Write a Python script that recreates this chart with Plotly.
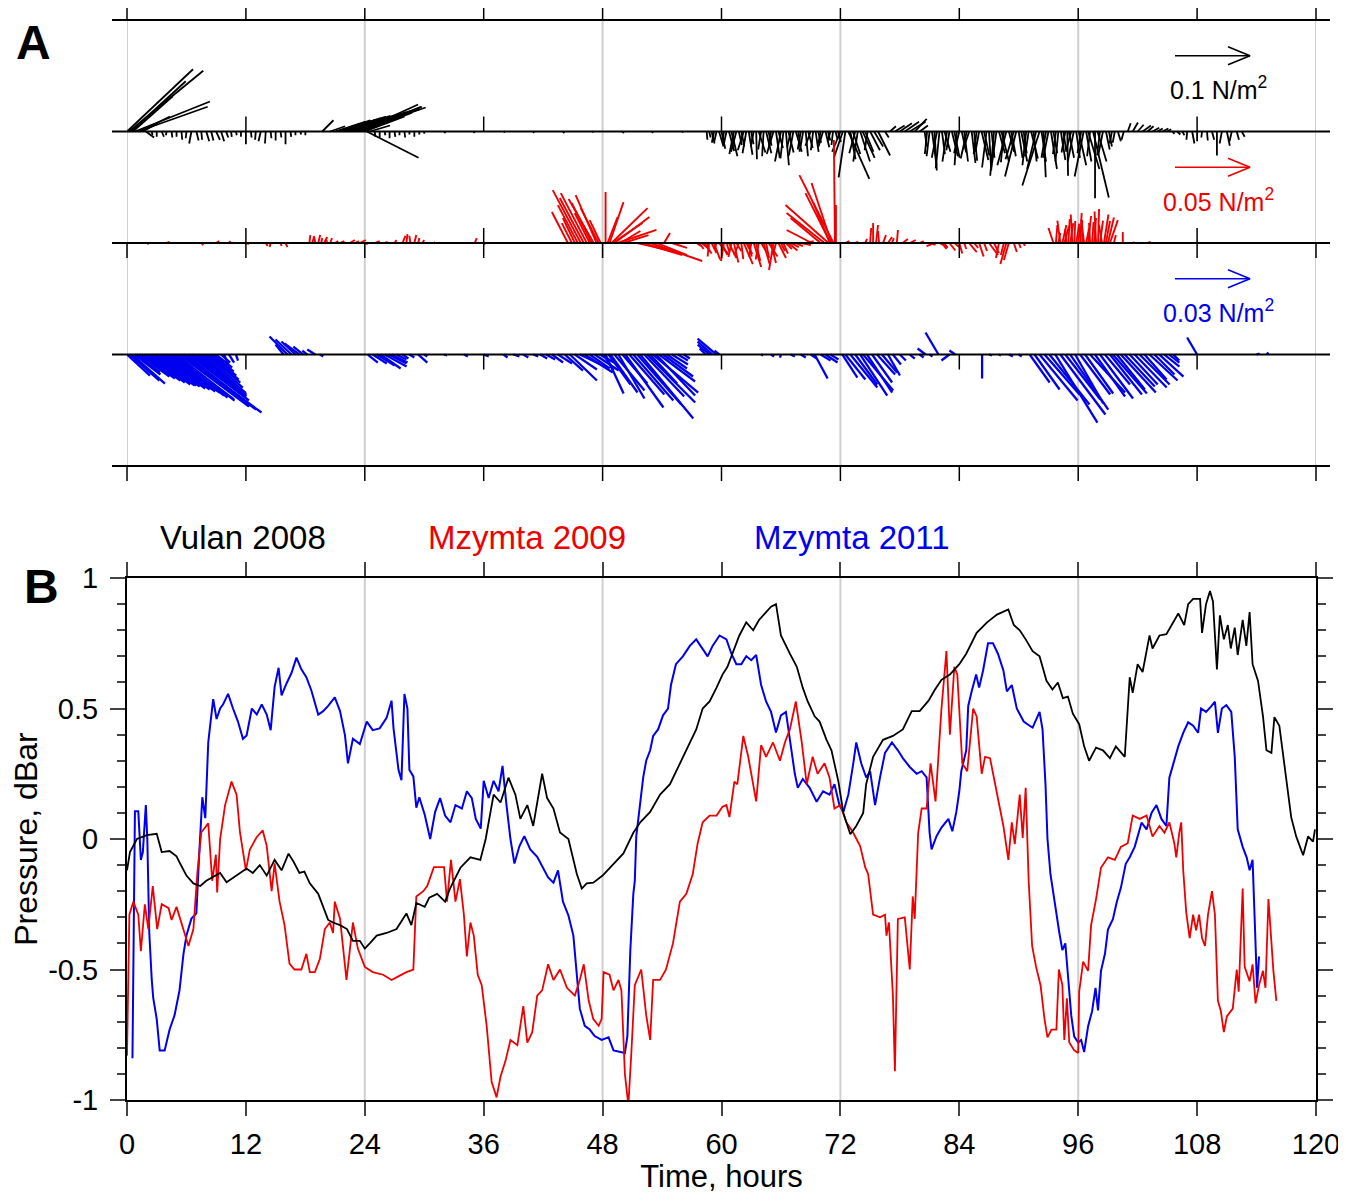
import plotly.graph_objects as go

# ---- panel B: bottom pressure, dBar ----
vulan_t = [0, 0.3, 1.0, 2.0, 3.0, 3.5, 4.3, 5.0, 5.35, 6.0, 6.7, 7.4, 8.0, 8.7, 9.4, 10.05, 11.06, 12.07, 12.7,
           13.4, 14.1, 14.9, 15.6, 16.3, 16.8, 17.4, 17.9, 18.45, 19.3, 19.8, 20.3, 20.8, 21.5, 22.2, 22.8, 23.5,
           24.0, 24.5, 25.2, 26.2, 27.2, 28.2, 28.7, 29.2, 30.05, 30.5, 31.3, 32.1, 32.6, 33.65, 34.66, 35.66,
           36.2, 37.0, 37.7, 38.5, 39.2, 39.7, 40.4, 41.0, 41.9, 42.4, 43.04, 43.7, 44.55, 45.4, 45.9, 46.4,
           47.06, 48.0, 49.1, 50.1, 51.1, 51.8, 52.8, 53.8, 54.8, 55.8, 56.8, 57.45, 58.1, 58.8, 59.5, 60.1,
           60.6, 61.1, 61.8, 62.5, 63.2, 63.8, 64.5, 65.0, 65.5, 66.0, 66.9, 67.6, 68.2, 68.7, 69.4, 69.9, 70.6,
           71.1, 71.8, 72.3, 73.0, 73.6, 74.3, 74.6, 75.3, 76.3, 77.3, 78.3, 79.2, 80.0, 80.9, 81.5, 82.2,
           83.05, 84.0, 84.7, 85.75, 86.8, 87.8, 88.95, 89.5, 90.1, 90.7, 91.4, 92.1, 92.8, 93.4, 93.95, 94.45,
           94.96, 95.46, 96.1, 96.6, 97.1, 97.8, 98.5, 99.2, 99.8, 100.7, 101.2, 101.5, 102.0, 102.5, 103.2,
           103.5, 104.2, 104.9, 105.4, 106.1, 106.7, 107.1, 107.6, 108.3, 108.5, 108.9, 109.3, 109.6, 110.0,
           110.3, 110.7, 111.1, 111.4, 111.8, 112.1, 112.6, 112.97, 113.3, 113.6, 114.15, 114.65, 115.0, 115.5,
           115.8, 116.3, 116.8, 117.2, 117.5, 118.0, 118.7, 119.2, 119.7, 119.9]
vulan_p = [-0.12, -0.05, 0.0, 0.015, 0.02, -0.05, -0.046, -0.066, -0.093, -0.14, -0.17, -0.18, -0.16, -0.146,
           -0.13, -0.166, -0.14, -0.113, -0.13, -0.1, -0.14, -0.08, -0.12, -0.056, -0.086, -0.13, -0.125, -0.17,
           -0.21, -0.26, -0.31, -0.32, -0.33, -0.345, -0.39, -0.39, -0.42, -0.4, -0.37, -0.36, -0.345, -0.285,
           -0.33, -0.245, -0.26, -0.225, -0.21, -0.24, -0.19, -0.11, -0.07, -0.08, 0.0, 0.17, 0.14, 0.235, 0.17,
           0.077, 0.13, 0.05, 0.25, 0.157, 0.117, 0.025, 0.0, -0.134, -0.19, -0.17, -0.167, -0.14, -0.094,
           -0.055, 0.024, 0.064, 0.104, 0.17, 0.21, 0.29, 0.37, 0.42, 0.5, 0.527, 0.58, 0.63, 0.66, 0.71, 0.78,
           0.83, 0.8, 0.84, 0.87, 0.89, 0.9, 0.78, 0.71, 0.66, 0.58, 0.527, 0.47, 0.45, 0.38, 0.34, 0.22, 0.1,
           0.018, 0.05, 0.1, 0.21, 0.315, 0.38, 0.395, 0.42, 0.49, 0.49, 0.53, 0.57, 0.61, 0.63, 0.67, 0.71,
           0.79, 0.83, 0.86, 0.88, 0.82, 0.8, 0.765, 0.72, 0.7, 0.606, 0.573, 0.6, 0.54, 0.546, 0.48, 0.44,
           0.355, 0.3, 0.35, 0.34, 0.31, 0.355, 0.315, 0.62, 0.56, 0.67, 0.64, 0.78, 0.73, 0.78, 0.785, 0.82,
           0.864, 0.82, 0.9, 0.92, 0.92, 0.79, 0.9, 0.95, 0.91, 0.65, 0.857, 0.765, 0.82, 0.73, 0.81, 0.705,
           0.84, 0.74, 0.87, 0.67, 0.606, 0.47, 0.34, 0.33, 0.467, 0.434, 0.29, 0.17, 0.083, 0.01, -0.062, 0.01,
           -0.01, 0.037]

mz09_t = [0, 0.24, 0.64, 1.14, 1.4, 1.8, 2.15, 2.6, 3.05, 3.5, 4.2, 4.5, 5.0, 5.7, 6.2, 6.7, 7.1, 7.5, 8.2, 8.6,
          8.97, 9.1, 9.4, 9.9, 10.55, 11.06, 11.4, 12.0, 12.4, 13.08, 13.7, 14.1, 14.6, 14.9, 15.4, 15.9, 16.4,
          16.9, 17.6, 18.1, 18.45, 18.96, 19.46, 19.97, 20.47, 20.8, 20.97, 21.5, 22.15, 22.8, 23.3, 24.0, 24.8,
          25.85, 26.7, 27.2, 28.2, 28.9, 29.2, 29.9, 30.3, 30.97, 31.5, 32.0, 32.3, 32.7, 33.15, 33.6, 34.0,
          34.3, 34.66, 35.0, 35.4, 35.8, 36.3, 36.8, 37.3, 37.7, 38.2, 38.7, 39.4, 40.0, 40.4, 40.9, 41.4, 41.9,
          42.5, 43.04, 43.7, 44.4, 45.2, 45.7, 46.1, 46.6, 47.06, 47.6, 47.9, 48.1, 48.7, 49.1, 49.6, 49.9,
          50.25, 50.6, 50.9, 51.25, 51.9, 52.4, 52.8, 53.1, 53.8, 54.4, 55.1, 55.8, 56.45, 57.1, 57.6, 58.1,
          58.8, 59.5, 60.1, 60.5, 60.8, 61.3, 61.6, 62.2, 62.7, 63.2, 63.5, 64.0, 64.5, 65.2, 65.9, 66.4, 66.9,
          67.5, 68.1, 68.6, 69.2, 69.7, 70.4, 70.9, 71.4, 72.0, 72.6, 73.3, 74.0, 74.5, 74.8, 75.3, 76.0, 76.5,
          76.65, 76.9, 77.3, 77.5, 77.8, 78.5, 79.0, 79.3, 79.5, 79.85, 80.2, 80.7, 81.1, 81.6, 82.2, 82.7,
          83.05, 83.5, 83.8, 84.3, 84.8, 85.4, 85.75, 86.26, 86.6, 87.1, 87.8, 88.45, 88.95, 89.3, 89.6, 90.1,
          90.4, 90.7, 91.0, 91.35, 91.75, 92.2, 92.6, 92.9, 93.3, 93.8, 94.05, 94.4, 94.6, 94.86, 95.1, 95.6,
          96.0, 96.1, 96.5, 97.0, 97.3, 97.8, 98.3, 99.0, 99.7, 100.3, 101.0, 101.5, 102.2, 102.9, 103.5, 104.2,
          104.7, 105.2, 105.7, 105.9, 106.2, 106.4, 106.6, 106.9, 107.25, 107.6, 107.9, 108.2, 108.5, 108.8,
          109.1, 109.5, 109.8, 110.1, 110.4, 110.7, 111.0, 111.6, 112.0, 112.2, 112.6, 112.8, 113.3, 113.6,
          113.9, 114.25, 114.65, 114.9, 115.2, 115.4, 115.7, 116.0]
mz09_p = [-0.83, -0.29, -0.24, -0.29, -0.43, -0.25, -0.345, -0.18, -0.345, -0.25, -0.265, -0.31, -0.26, -0.345,
          -0.41, -0.345, -0.13, 0.026, 0.06, -0.16, -0.06, -0.205, 0.0, 0.13, 0.22, 0.17, 0.026, -0.12, -0.04,
          0.007, 0.033, -0.026, -0.2, -0.093, -0.24, -0.33, -0.477, -0.5, -0.5, -0.44, -0.51, -0.51, -0.46,
          -0.345, -0.32, -0.36, -0.24, -0.305, -0.54, -0.32, -0.42, -0.49, -0.51, -0.52, -0.54, -0.53, -0.51,
          -0.5, -0.22, -0.2, -0.18, -0.108, -0.108, -0.108, -0.24, -0.08, -0.24, -0.154, -0.29, -0.45, -0.32,
          -0.37, -0.52, -0.56, -0.716, -0.93, -0.99, -0.91, -0.85, -0.77, -0.79, -0.64, -0.78, -0.74, -0.6,
          -0.58, -0.48, -0.54, -0.5, -0.57, -0.6, -0.54, -0.48, -0.62, -0.69, -0.716, -0.69, -0.51, -0.52,
          -0.58, -0.54, -0.58, -0.9, -1.02, -0.82, -0.56, -0.5, -0.675, -0.77, -0.54, -0.54, -0.5, -0.4, -0.24,
          -0.21, -0.134, -0.015, 0.064, 0.09, 0.09, 0.124, 0.13, 0.084, 0.22, 0.21, 0.395, 0.315, 0.21, 0.144,
          0.36, 0.315, 0.37, 0.3, 0.37, 0.42, 0.527, 0.37, 0.21, 0.315, 0.25, 0.29, 0.236, 0.117, 0.13, 0.064,
          0.024, -0.028, -0.108, -0.134, -0.29, -0.3, -0.29, -0.37, -0.32, -0.6, -0.89, -0.306, -0.3, -0.5,
          -0.22, -0.306, 0.024, 0.117, 0.117, 0.29, 0.144, 0.5, 0.72, 0.4, 0.66, 0.63, 0.29, 0.26, 0.5, 0.47,
          0.25, 0.315, 0.31, 0.18, 0.05, -0.08, 0.064, -0.02, 0.17, 0.004, 0.196, -0.16, -0.41, -0.49, -0.56,
          -0.69, -0.76, -0.73, -0.73, -0.5, -0.56, -0.77, -0.61, -0.78, -0.81, -0.82, -0.585, -0.47, -0.505,
          -0.33, -0.23, -0.11, -0.07, -0.08, -0.03, -0.016, 0.09, 0.077, 0.09, 0.01, 0.05, 0.024, 0.064, -0.016,
          -0.07, 0.024, 0.064, -0.12, -0.28, -0.38, -0.29, -0.35, -0.29, -0.38, -0.41, -0.29, -0.2, -0.29,
          -0.62, -0.66, -0.74, -0.68, -0.65, -0.5, -0.585, -0.19, -0.49, -0.545, -0.48, -0.63, -0.56, -0.505,
          -0.57, -0.23, -0.35, -0.505, -0.62]

mz11_t = [0.55, 0.8, 1.14, 1.4, 1.6, 1.9, 2.05, 2.25, 2.5, 2.65, 3.0, 3.3, 3.8, 4.3, 4.8, 5.3, 5.7, 6.0, 6.5, 7.0,
          7.3, 7.6, 7.9, 8.2, 8.4, 8.7, 9.04, 9.4, 9.7, 10.2, 10.7, 11.2, 11.7, 12.07, 12.6, 13.1, 13.6, 14.1,
          14.5, 14.9, 15.3, 15.6, 16.1, 16.6, 17.1, 17.6, 18.1, 18.6, 19.3, 19.8, 20.3, 20.97, 21.5, 22.0, 22.3,
          22.8, 23.5, 24.2, 24.8, 25.5, 26.2, 26.7, 26.9, 27.4, 27.7, 28.0, 28.3, 28.5, 28.9, 29.2, 29.5, 30.05,
          30.6, 31.1, 31.6, 32.1, 32.65, 33.15, 33.8, 34.3, 34.8, 35.2, 35.7, 36.0, 36.5, 37.0, 37.5, 37.9,
          38.3, 38.7, 39.1, 39.6, 40.1, 40.7, 41.4, 42.0, 42.5, 43.04, 43.5, 44.0, 44.55, 45.05, 45.4, 45.7,
          46.2, 46.7, 47.2, 47.9, 48.6, 49.1, 49.7, 50.25, 50.5, 50.8, 51.1, 51.25, 51.4, 51.75, 52.1, 52.4,
          52.8, 53.1, 53.6, 54.1, 54.6, 54.9, 55.4, 56.1, 56.8, 57.45, 58.1, 58.6, 59.1, 59.8, 60.5, 61.0, 61.5,
          62.0, 62.5, 63.0, 63.5, 64.0, 64.5, 65.0, 65.5, 66.0, 66.5, 66.9, 67.4, 67.7, 68.2, 68.9, 69.6,
          70.25, 70.9, 71.4, 71.9, 72.3, 72.8, 73.3, 73.6, 74.1, 74.6, 75.0, 75.5, 76.0, 76.5, 77.2, 77.8,
          78.3, 79.0, 79.7, 80.2, 80.7, 81.0, 81.2, 81.7, 82.2, 82.9, 83.3, 83.7, 84.0, 84.2, 84.7, 84.9, 85.25,
          85.7, 86.0, 86.4, 86.9, 87.4, 87.9, 88.45, 88.8, 89.3, 89.8, 90.5, 91.1, 91.4, 92.1, 92.4, 92.7,
          92.9, 93.2, 93.4, 93.8, 94.1, 94.4, 94.7, 94.96, 95.3, 95.6, 96.0, 96.3, 96.6, 97.0, 97.4, 97.75,
          98.0, 98.3, 98.7, 99.0, 99.5, 99.9, 100.3, 100.8, 101.2, 101.7, 102.0, 102.4, 102.9, 103.4, 103.9,
          104.4, 104.9, 105.2, 105.6, 106.1, 106.6, 107.1, 107.6, 108.1, 108.4, 108.9, 109.4, 109.8, 110.1,
          110.5, 110.95, 111.45, 111.8, 112.1, 112.6, 113.0, 113.3, 113.6, 113.8, 114.05, 114.25]
mz11_p = [-0.84, 0.106, 0.106, -0.08, -0.05, 0.13, 0.0, -0.36, -0.54, -0.61, -0.69, -0.81, -0.81, -0.73,
          -0.675, -0.58, -0.44, -0.37, -0.305, -0.285, -0.05, 0.16, 0.08, 0.37, 0.437, 0.536, 0.46, 0.5, 0.516,
          0.556, 0.5, 0.45, 0.384, 0.397, 0.5, 0.477, 0.516, 0.477, 0.417, 0.583, 0.656, 0.55, 0.596, 0.636,
          0.695, 0.65, 0.62, 0.57, 0.477, 0.49, 0.51, 0.543, 0.49, 0.397, 0.29, 0.384, 0.364, 0.45, 0.417,
          0.424, 0.464, 0.53, 0.424, 0.265, 0.225, 0.556, 0.5, 0.265, 0.24, 0.12, 0.16, 0.093, 0.0, 0.104,
          0.157, 0.09, 0.064, 0.13, 0.117, 0.183, 0.157, 0.077, 0.04, 0.223, 0.157, 0.223, 0.183, 0.28, 0.13,
          0.0, -0.094, -0.028, 0.011, -0.04, -0.068, -0.108, -0.147, -0.167, -0.12, -0.24, -0.293, -0.37,
          -0.53, -0.65, -0.716, -0.73, -0.755, -0.77, -0.76, -0.81, -0.815, -0.82, -0.755, -0.425, -0.21,
          -0.16, 0.011, 0.117, 0.236, 0.3, 0.34, 0.395, 0.42, 0.474, 0.5, 0.59, 0.67, 0.7, 0.74, 0.765, 0.73,
          0.7, 0.74, 0.78, 0.765, 0.71, 0.67, 0.67, 0.7, 0.685, 0.705, 0.59, 0.527, 0.487, 0.408, 0.474,
          0.487, 0.38, 0.25, 0.196, 0.23, 0.196, 0.143, 0.183, 0.17, 0.21, 0.13, 0.104, 0.17, 0.29, 0.37,
          0.29, 0.236, 0.26, 0.13, 0.236, 0.33, 0.37, 0.34, 0.31, 0.276, 0.25, 0.26, 0.236, 0.024, -0.04,
          0.011, 0.044, 0.077, 0.03, 0.104, 0.183, 0.26, 0.34, 0.51, 0.566, 0.63, 0.58, 0.646, 0.75, 0.75,
          0.71, 0.646, 0.566, 0.59, 0.5, 0.45, 0.434, 0.427, 0.487, 0.42, 0.209, 0.0, -0.135, -0.188, -0.28,
          -0.36, -0.426, -0.4, -0.52, -0.677, -0.757, -0.78, -0.77, -0.816, -0.717, -0.66, -0.57, -0.657,
          -0.505, -0.44, -0.347, -0.307, -0.24, -0.188, -0.095, -0.07, -0.03, 0.01, 0.063, 0.037, 0.1, 0.13,
          0.077, 0.05, 0.235, 0.288, 0.355, 0.407, 0.447, 0.434, 0.407, 0.5, 0.487, 0.507, 0.526, 0.407, 0.5,
          0.513, 0.487, 0.315, 0.037, -0.03, -0.07, -0.12, -0.08, -0.294, -0.57, -0.45]

# ---- panel A: wind stress sticks (time h, east u, north v in N/m^2) ----
vulan_ws_t = [0.0, 0.2, 0.4, 0.6, 0.8, 1.1, 1.3, 1.6, 1.9,
              2.5, 3.0, 3.5, 4.0, 4.5, 5.0, 5.5, 6.0, 6.5, 7.0, 7.5, 8.0, 8.5, 9.0, 9.5, 10.0, 10.5, 11.0,
              11.5, 12.0, 12.5, 13.0, 13.5, 14.0, 14.5, 15.0, 15.5, 16.0, 16.5, 17.0, 17.5, 18.0,
              19.7, 20.5, 21.0, 21.15, 21.3, 21.45, 21.6, 21.75, 21.9, 22.05, 22.2, 22.35, 22.5, 22.65, 22.8,
              22.95, 23.1, 23.25, 23.4, 23.55, 23.7, 23.85, 24.0, 24.2, 24.5,
              25.0, 25.5, 26.0, 26.5, 27.0, 27.5, 28.0, 28.5, 29.0, 29.5, 30.0,
              32, 35, 38, 41, 44, 47, 50, 53, 56,
              58.5, 59.0, 59.5, 60.0, 60.5, 61.0, 61.5, 62.0, 62.5, 63.0, 63.5, 64.0, 64.5, 65.0, 65.5, 66.0,
              66.5, 67.0, 67.5, 68.0, 68.5, 69.0, 69.5, 70.0, 70.5, 71.0, 71.5, 72.0, 72.5, 72.8, 73.0, 73.5,
              74.0, 74.5, 75.0, 75.8, 76.5,
              77.0, 77.5, 78.0, 78.5, 79.0, 79.5, 80.0,
              80.5, 81.0, 81.5, 82.0, 82.5, 83.0, 83.5, 84.0, 84.5, 85.0, 85.5, 86.0, 86.5, 87.0, 87.5, 88.0,
              88.5, 89.0, 89.5, 90.0, 90.5, 91.0, 91.5, 92.1, 92.5, 93.0, 93.5, 94.0, 94.5, 94.9, 95.3, 95.8,
              96.3, 96.8, 97.2, 97.5, 97.7, 98.2, 98.8, 99.4, 100.0, 100.6,
              101.0, 101.5, 102.0, 102.5, 103.0, 103.5, 104.0, 104.5, 105.0,
              105.5, 106.0, 106.5, 107.0, 107.5, 108.0, 108.5, 109.0, 109.5, 110.0, 110.5, 111.0, 111.5, 112.0,
              112.5,
              58.75, 59.25, 59.75, 60.25, 60.75, 61.25, 61.75, 62.25, 62.75, 63.25, 63.75, 64.25, 64.75, 65.25,
              65.75, 66.25, 66.75, 67.25, 67.75, 68.25, 68.75, 69.25, 69.75, 70.25, 70.75, 71.25, 71.75, 72.25,
              73.25, 73.75, 74.25, 74.75, 75.4,
              80.75, 81.25, 81.75, 82.25, 82.75, 83.25, 83.75, 84.25, 84.75, 85.25, 85.75, 86.25, 86.75, 87.25,
              87.75, 88.25, 88.75, 89.25, 89.75, 90.25, 90.75, 91.25, 91.75, 92.3, 92.75, 93.25, 93.75, 94.25,
              94.7, 95.05, 95.55, 96.05, 96.55, 97.0, 97.95, 98.5, 99.1, 99.7]
vulan_ws_u = [0.088, 0.099, 0.073, 0.053, 0.100, 0.093, 0.040, 0.020, 0.011,
              0.001, 0, 0.003, -0.001, 0.001, 0, 0.001, -0.001, -0.003, 0.003, 0.001, 0.004, 0.003, 0.005,
              0.004, 0.003, 0.001, 0.001, 0, 0, 0.001, -0.001, -0.003, -0.001, 0.001, 0, 0.001, 0, 0.001, 0,
              0.001, 0,
              0.015, 0.020, 0.040, 0.045, 0.051, 0.055, 0.060, 0.064, 0.067, 0.070, 0.073, 0.077, 0.080, 0.082,
              0.083, 0.088, 0.093, 0.085, 0.079, 0.075, 0.080, 0.065, 0.053, 0.069, 0.027,
              0.001, 0, 0.001, 0, 0.001, 0, 0.001, 0, 0, 0, 0,
              0.002, 0.001, 0.002, 0.001, 0.002, 0.001, 0.002, 0.001, 0.002,
              0.001, 0.004, -0.003, 0.005, -0.004, 0.008, -0.007, 0.004, -0.005, 0.003, 0.001, -0.004, 0.007,
              -0.003, 0.005, -0.008, 0.004, -0.005, 0.008, -0.004, 0.003, -0.007, 0.004, -0.003, 0.005, -0.004,
              0.003, -0.011, -0.009, 0.028, 0.007, -0.008, 0.013, 0.011, 0.013, 0.016, 0.005,
              0.008, 0.013, 0.016, 0.019, 0.021, 0.016, 0.011,
              0.003, -0.004, 0.003, -0.005, 0.008, -0.004, 0.007, -0.007, 0.005, -0.008, 0.004, -0.005, 0.007,
              0.003, -0.005, 0.008, -0.004, 0.007, -0.011, 0.005, 0.004, -0.005, 0.004, -0.023, 0.003, -0.007,
              0.005, -0.004, 0.004, 0.001, -0.007, 0.005, -0.005, 0.007, -0.004, 0.021, 0, -0.004, 0.005,
              -0.003, 0.004, -0.003,
              0.004, 0.007, 0.008, 0.011, 0.008, 0.009, 0.007, 0.008, 0.005,
              0.003, 0.004, 0.003, -0.001, 0.003, 0, -0.001, 0.001, 0.003, 0, -0.003, 0.004, -0.003, 0.003,
              0.004,
              0.002, -0.003, 0.006, -0.002, 0.007, -0.006, 0.004, -0.008, 0.005, -0.004, 0.009, -0.002, 0.004,
              -0.009, 0.006, -0.004, 0.007, -0.006, 0.003, -0.005, 0.006, -0.003, 0.004, -0.006, 0.003, -0.002,
              0.004, -0.012, 0.010, -0.006, 0.016, -0.004, 0.012,
              -0.003, 0.006, -0.007, 0.004, -0.006, 0.008, -0.003, 0.006, -0.008, 0.005, -0.004, 0.009, -0.006,
              0.004, -0.007, 0.010, -0.012, 0.006, -0.015, 0.008, -0.005, 0.009, -0.012, 0.006, -0.006, 0.008,
              -0.004, 0.006, -0.005, 0.007, -0.008, 0.010, -0.012, 0.015, 0.012, -0.006, 0.004, -0.003]
vulan_ws_v = [0.083, 0.081, 0.067, 0.047, 0.040, 0.033, 0.020, 0.011, -0.008,
              -0.005, -0.007, -0.007, -0.005, -0.008, -0.007, -0.011, -0.009, -0.016, -0.012, -0.011, -0.013,
              -0.012, -0.011, -0.013, -0.008, -0.007, -0.005, -0.007, -0.017, -0.008, -0.011, -0.013, -0.016,
              -0.009, -0.012, -0.008, -0.017, -0.007, -0.005, -0.004, -0.005,
              0.015, 0.007, 0.013, 0.015, 0.016, 0.018, 0.020, 0.021, 0.021, 0.023, 0.024, 0.026, 0.027, 0.028,
              0.028, 0.030, 0.032, 0.033, 0.036, 0.030, 0.033, 0.025, 0.020, -0.035, 0.008,
              -0.007, -0.008, -0.005, -0.009, -0.007, -0.005, -0.008, -0.004, -0.007, -0.004, -0.003,
              -0.002, -0.002, -0.001, -0.002, -0.002, -0.001, -0.002, -0.002, -0.001,
              -0.011, -0.016, -0.013, -0.023, -0.019, -0.033, -0.027, -0.020, -0.029, -0.017, -0.037, -0.024,
              -0.029, -0.021, -0.035, -0.040, -0.045, -0.021, -0.027, -0.024, -0.033, -0.019, -0.027, -0.016,
              -0.021, -0.013, -0.011, -0.027, -0.061, -0.063, -0.037, -0.029, -0.040, -0.027, -0.025, -0.032,
              -0.008,
              0.007, 0.008, 0.011, 0.013, 0.013, 0.017, 0.008,
              -0.020, -0.033, -0.052, -0.049, -0.027, -0.025, -0.035, -0.029, -0.040, -0.024, -0.039, -0.027,
              -0.032, -0.052, -0.059, -0.029, -0.041, -0.027, -0.037, -0.035, -0.029, -0.033, -0.040, -0.072,
              -0.061, -0.035, -0.029, -0.040, -0.027, -0.059, -0.025, -0.035, -0.029, -0.040, -0.033, -0.088,
              -0.089, -0.032, -0.024, -0.016, -0.013, -0.011,
              0.011, 0.012, 0.009, 0.008, 0.007, 0.005, 0.004, 0.004, 0.003,
              -0.003, -0.004, -0.005, -0.011, -0.016, -0.013, -0.008, -0.012, -0.011, -0.032, -0.016, -0.019,
              -0.013, -0.011, -0.007,
              -0.008, -0.015, -0.020, -0.012, -0.026, -0.030, -0.018, -0.025, -0.031, -0.020, -0.028, -0.033,
              -0.019, -0.030, -0.022, -0.036, -0.028, -0.032, -0.020, -0.027, -0.022, -0.025, -0.015, -0.020,
              -0.012, -0.018, -0.014, -0.035, -0.030, -0.040, -0.035, -0.025, -0.020,
              -0.030, -0.045, -0.035, -0.030, -0.040, -0.033, -0.045, -0.028, -0.036, -0.042, -0.030, -0.038,
              -0.048, -0.035, -0.050, -0.040, -0.045, -0.033, -0.060, -0.040, -0.045, -0.036, -0.050, -0.040,
              -0.035, -0.050, -0.030, -0.038, -0.028, -0.035, -0.040, -0.045, -0.060, -0.050, -0.040, -0.030,
              -0.020, -0.015]

mz09_ws_t = [2.0, 4.0, 7.5, 9.0, 10.5, 12.0, 14.0, 14.5, 15.5, 16.0,
             18.4, 18.7, 19.0, 19.3, 19.6, 19.9, 20.2, 20.5, 21.0, 21.5, 22.0, 22.5, 23.0, 23.5, 24.0, 25.0,
             26.0, 27.0, 27.8, 28.2, 28.6, 29.0, 29.4, 29.8, 31.0, 35.1, 36.0,
             44.5, 44.9, 45.2, 45.5, 45.8, 46.1, 46.4, 46.7, 46.9, 47.1, 47.4, 47.6, 47.8,
             48.3, 48.5, 48.7, 48.9, 49.0, 49.2, 49.5, 49.8, 50.1, 51.5, 52.0, 52.8, 53.5, 54.2, 55.0,
             57.5, 58.0, 58.5, 59.0, 59.5, 60.0, 60.5, 61.0, 61.5, 62.0, 62.5, 63.0, 63.5, 64.0, 64.5, 65.0,
             65.5, 66.0, 66.5, 67.0, 67.5, 68.0, 68.5,
             69.1, 70.0, 70.4, 70.8, 70.95, 71.0, 71.1, 71.3, 71.45, 71.55,
             72.5, 73.5, 74.5, 75.0, 75.3, 75.6, 75.9, 76.3, 76.8, 77.2, 77.7, 78.3, 79.0, 80.0, 81.0, 81.5,
             82.0, 82.5, 83.5, 84.5, 85.5, 86.5, 87.5, 88.5, 89.0, 89.5, 90.0, 90.5,
             93.5, 94.0, 94.4, 94.8, 95.2, 95.6, 96.0, 96.4, 96.8, 97.2, 97.6, 98.0, 98.4, 98.8, 99.2, 99.6,
             100.5, 101.5, 103.0,
             57.75, 58.25, 58.75, 59.25, 59.75, 60.25, 60.75, 61.25, 61.75, 62.25, 62.75, 63.25, 63.75, 64.25,
             64.75, 65.25, 65.75, 66.25, 66.75,
             82.25, 83.0, 84.0, 85.0, 86.0, 87.0, 88.0, 88.75,
             93.75, 94.2, 94.6, 95.0, 95.4, 95.8, 96.2, 96.6, 97.0, 97.4, 97.8, 98.2, 98.6, 99.0]
mz09_ws_u = [0.0013, 0.002, 0.0013, 0.002, -0.0013, 0.002, 0.0013, -0.0007, 0.0007, 0.0013,
             0.0007, 0.0013, -0.0007, 0.0013, 0.0007, 0.002, -0.0007, 0.0013, 0.002, 0.0027, -0.002, 0.0033,
             0.0027, 0.004, 0.002, 0.0033, 0.002, 0.0013, 0.002, 0.0007, -0.0007, 0.0013, 0.0007, 0.0013,
             0.0007, 0.0013, 0.0007,
             -0.0107, -0.0067, -0.008, -0.0133, -0.0187, -0.016, -0.0173, -0.01, -0.0133, -0.0167, -0.014,
             -0.012, -0.0073,
             0, 0.0067, 0.0093, 0.024, 0.02, 0.0233, 0.026, 0.0133, 0.0167, 0.0233, 0.0267, 0.0347, 0.02,
             0.004, 0.01,
             0.0027, 0.004, 0.002, 0.0033, -0.0013, 0.004, 0.002, -0.002, 0.0033, 0.0013, 0.004, -0.0013,
             0.0027, 0.004, 0.002, 0.0033, -0.002, 0.0027, 0.004, 0.0053, 0.0047, 0.0067, 0.0053,
             -0.0167, -0.02, -0.0253, -0.0287, -0.0113, -0.0167, -0.0133, -0.0227, -0.0007, 0,
             0.0027, 0.002, 0.0013, 0.0007, 0, 0.0013, -0.0007, 0.002, 0.0027, 0.0013, 0.0007, 0.0033, 0.004,
             0.0027, 0.004, -0.0053, 0.0053, 0.002, 0.0033, 0.0013, 0.0027, 0.002, 0.0033, -0.002, -0.0033,
             0.002, 0.0013, 0.0007,
             -0.0033, 0.0013, 0.0027, -0.0007, 0.002, 0.0007, 0.0013, 0, 0.002, -0.0007, 0.0013, 0.0007,
             -0.002, 0.0027, 0.0053, 0.0013, 0, 0.0013, 0.002,
             0.003, 0.005, -0.001, 0.004, 0.006, -0.002, 0.005, 0.003, -0.003, 0.006, 0.002, 0.005, -0.002,
             0.004, 0.006, -0.003, 0.005, 0.003, 0.006,
             0.003, 0.004, 0.002, 0.005, 0.003, 0.006, -0.002, -0.004,
             0.001, -0.002, 0.003, 0.001, -0.001, 0.002, 0.001, -0.002, 0.002, 0.001, -0.001, 0.002, 0.003,
             0.004]
mz09_ws_v = [-0.0007, 0.0007, -0.0013, 0.0013, 0.0013, -0.0007, -0.002, -0.0027, -0.002, -0.0027,
             0.0053, 0.0047, 0.004, 0.0053, 0.0033, 0.004, 0.0027, 0.0033, 0.0013, 0.0013, 0.0007, 0.002,
             0.0013, 0.002, -0.0007, 0.0013, 0.0007, 0.002, 0.0047, 0.006, 0.0047, 0.0053, 0.0033, 0.002,
             0.0007, 0.0033, -0.0013,
             0.0207, 0.0133, 0.0167, 0.0253, 0.0353, 0.03, 0.0333, 0.02, 0.0267, 0.0293, 0.032, 0.0233, 0.0153,
             0.034, 0.0173, 0.0273, 0.0233, 0.0133, 0.0173, 0.0087, 0.008, 0.0053, -0.0053, -0.008, -0.012,
             -0.008, 0.0067, -0.0033,
             -0.002, -0.0033, -0.0053, -0.0067, -0.004, -0.008, -0.006, -0.0093, -0.0053, -0.0107, -0.0073,
             -0.0093, -0.012, -0.0067, -0.01, -0.0133, -0.008, -0.0053, -0.004, -0.0027, -0.002, -0.0013,
             0.0013,
             0.0087, 0.0167, 0.02, 0.0253, 0.0273, 0.0333, 0.04, 0.0453, 0.0687, 0.0253,
             0.0013, 0.0007, 0.0027, 0.01, 0.0133, 0.012, 0.008, 0.0053, 0.004, 0.0033, 0.0087, 0.0027, 0.002,
             0.0013, -0.0013, -0.002, -0.0027, -0.0033, -0.0027, -0.004, -0.0033, -0.0053, -0.0067, -0.008,
             -0.0113, -0.006, -0.0033, -0.002,
             0.01, 0.0067, 0.012, 0.0093, 0.0133, 0.0147, 0.0113, 0.0153, 0.01, 0.0133, 0.0167, 0.0227, 0.012,
             0.0147, 0.0153, 0.0053, 0.0073, 0.0007, 0.0007,
             -0.004, -0.007, -0.009, -0.011, -0.007, -0.012, -0.010, -0.013, -0.008, -0.014, -0.009, -0.016,
             -0.011, -0.014, -0.009, -0.018, -0.010, -0.007, -0.005,
             -0.004, -0.005, -0.007, -0.006, -0.009, -0.008, -0.010, -0.014,
             0.012, 0.015, 0.011, 0.016, 0.019, 0.013, 0.020, 0.016, 0.018, 0.014, 0.021, 0.015, 0.019, 0.017]

mz11_ws_t = [0.0, 0.25, 0.5, 0.75, 1.0, 1.25, 1.5, 1.75, 2.0, 2.25, 2.5, 2.75, 3.0, 3.25, 3.5, 3.75, 4.0, 4.25,
             4.5, 4.75, 5.0, 5.25, 5.5, 5.75, 6.0, 6.25, 6.5, 6.75, 7.0, 7.25, 7.5, 7.75, 8.0, 8.25, 8.5, 8.75,
             9.0, 9.5, 9.8, 10.3, 11.0,
             15.8, 16.2, 16.6, 17.0, 17.4, 17.8, 18.2, 19.0, 19.5,
             24.3, 24.8, 25.2, 25.6, 26.0, 26.4, 26.7, 27.2, 27.8, 28.5, 29.4, 30.0,
             32, 34, 36, 38, 39, 40,
             41.0, 41.7, 42.3, 42.9, 43.5, 44.2, 44.7, 45.2, 45.7, 46.2, 46.7, 47.2, 47.7,
             48.1, 48.3, 48.6, 48.8, 49.2, 49.6, 50.0, 50.3, 50.7, 51.1, 51.5, 51.8, 52.2, 52.5, 52.8, 53.1,
             53.4, 53.7, 54.1, 54.5, 55.0, 55.6, 56.2,
             58.4, 58.8, 59.1, 59.5, 59.8,
             64, 65, 66, 67, 68, 69, 69.4, 70, 70.5, 71,
             72.2, 72.5, 73.0, 73.5, 74.0, 74.3, 74.7, 75.2, 75.7, 76.2, 76.8, 77.3, 78, 79, 80,
             80.6, 81.0, 81.9, 83.0, 83.6, 86.3, 87, 88, 89, 90,
             91.1, 91.6, 92.1, 92.6, 93.1, 93.7, 94.2, 94.7, 95.2, 95.7, 96.2, 96.7, 97.2, 97.7, 98.2, 98.7,
             99.2, 99.5, 99.9, 100.3, 100.7, 101.2, 101.7, 102.2, 102.7, 103.2, 103.7, 104.2, 104.7, 105.2,
             105.6, 108.0, 114, 115]
mz11_ws_u = [0.0092, 0.012, 0.0132, 0.0104, 0.0092, 0.012, 0.0132, 0.0144, 0.0152, 0.0164, 0.0172, 0.0168,
             0.0172, 0.0184, 0.0192, 0.0204, 0.0212, 0.022, 0.0224, 0.024, 0.0232, 0.028, 0.032, 0.0288,
             0.0256, 0.024, 0.022, 0.0208, 0.02, 0.0188, 0.0176, 0.0156, 0.0136, 0.012, 0.01, 0.008, 0.0064,
             0.0036, 0.0016, 0.002, 0.0008,
             -0.0032, -0.0072, -0.0064, -0.0056, -0.006, -0.004, -0.002, -0.0032, 0.0012,
             0.004, 0.0056, 0.0072, 0.008, 0.0088, 0.0072, 0.0064, 0.004, 0.0024, 0.002, 0.0036, 0.0012,
             0.0012, 0.0016, 0.002, 0.0016, 0.0024, 0.002,
             0.002, 0.0028, 0.0036, 0.0044, 0.0056, 0.0072, 0.0108, 0.0088, 0.01, 0.0112, 0.008, 0.0096,
             0.0072,
             0.004, 0.0072, 0.0088, 0.0108, 0.012, 0.0104, 0.01, 0.0152, 0.014, 0.016, 0.0176, 0.0212, 0.016,
             0.0192, 0.0108, 0.018, 0.0156, 0.0144, 0.012, 0.008, 0.0064, 0.004, 0.0024,
             -0.0024, -0.0048, -0.006, -0.0076, -0.002,
             0.0008, 0.0012, -0.0004, 0.0016, 0.002, 0.0024, 0.0052, 0.004, 0.0048, 0.0032,
             0.006, 0.008, 0.0108, 0.0088, 0.0108, 0.012, 0.01, 0.008, 0.0072, 0.006, 0.0048, 0.0032, 0.0024,
             0.002, 0.0016,
             -0.0032, 0.0012, -0.0052, -0.0032, -0.0024, 0, 0.0012, 0.0008, 0.0016, 0.0012,
             0.008, 0.01, 0.0152, 0.014, 0.016, 0.0168, 0.018, 0.014, 0.0152, 0.0112, 0.012, 0.0112, 0.014,
             0.012, 0.0132, 0.01, 0.0128, 0.0136, 0.0112, 0.014, 0.012, 0.0112, 0.0128, 0.012, 0.0088, 0.0112,
             0.008, 0.0096, 0.006, 0.004, 0.0024, -0.004, 0.0012, 0.0008]
mz11_ws_v = [-0.0084, -0.0104, -0.0116, -0.008, -0.0072, -0.0088, -0.0096, -0.0104, -0.0112, -0.012,
             -0.0124, -0.0124, -0.0128, -0.0136, -0.014, -0.0148, -0.0152, -0.0164, -0.0172, -0.018, -0.0184,
             -0.0208, -0.0232, -0.022, -0.0204, -0.0184, -0.0168, -0.0164, -0.016, -0.0156, -0.0152, -0.0132,
             -0.0112, -0.01, -0.0084, -0.0068, -0.0052, -0.0032, -0.004, -0.0032, -0.0024,
             0.004, 0.0072, 0.006, 0.0052, 0.0044, 0.0032, 0.0016, 0.002, -0.0008,
             -0.0032, -0.0036, -0.0044, -0.0056, -0.0048, -0.0036, -0.0032, -0.002, -0.0016, -0.0012,
             -0.0032, -0.0008,
             -0.0004, -0.0008, -0.0008, -0.0012, -0.0008, -0.0012,
             -0.0008, -0.0016, -0.002, -0.0032, -0.0036, -0.0064, -0.0104, -0.006, -0.0048, -0.0072, -0.0056,
             -0.0064, -0.004,
             -0.0064, -0.0156, -0.012, -0.0152, -0.0144, -0.0176, -0.0116, -0.0212, -0.016, -0.0184, -0.02,
             -0.0256, -0.0168, -0.0192, -0.0116, -0.0152, -0.0164, -0.0108, -0.0088, -0.0056, -0.004, -0.0024,
             -0.0016,
             0.0024, 0.004, 0.0052, 0.0064, 0.0016,
             -0.0004, -0.0008, -0.0012, -0.0008, -0.0012, -0.0016, -0.0096, -0.0024, -0.0032, -0.002,
             -0.0092, -0.01, -0.0132, -0.012, -0.0164, -0.0144, -0.0152, -0.0112, -0.008, -0.0072, -0.0084,
             -0.004, -0.0024, -0.0016, -0.0012,
             0.0024, -0.0008, 0.0088, -0.0024, 0.0016, -0.0096, -0.0004, -0.0004, -0.0008, -0.0008,
             -0.0112, -0.014, -0.0184, -0.016, -0.02, -0.0272, -0.024, -0.018, -0.022, -0.0196, -0.016,
             -0.0156, -0.0152, -0.0168, -0.0176, -0.012, -0.016, -0.0156, -0.014, -0.0152, -0.0128, -0.012,
             -0.0132, -0.012, -0.01, -0.0104, -0.008, -0.0088, -0.0048, -0.0032, -0.0024, 0.0068, 0.0004,
             0.0008]

series_names = ["Vulan 2008", "Mzymta 2009", "Mzymta 2011"]
series_colors = ["black", "#ee0000", "#0000ee"]
ref_stress = [0.1, 0.05, 0.03]          # N/m^2 for the scale arrows
ref_labels = ["0.1 N/m<sup>2</sup>", "0.05 N/m<sup>2</sup>", "0.03 N/m<sup>2</sup>"]

# ---- geometry (page body has an 8 px margin) ----
BODY = 8
W, H = 1334, 1186
ML, MT = 127 - BODY, 20 - BODY
MR = W - (1316 - BODY)
MB = H - (1100 - BODY)
PW, PH = W - ML - MR, H - MT - MB
A_DOM = [0.587, 1.0]
B_DOM = [0.0, 0.4833]
T_MAX = 120
PX_H = PW / T_MAX                       # px per hour
PX_A = (A_DOM[1] - A_DOM[0]) * PH / 4   # px per panel-A unit
ARROW_PX = 75
FONT = "Liberation Sans, Arial, Helvetica, sans-serif"
GRID = "#cfcfcf"


def ya(v):
    return A_DOM[0] + v / 4 * (A_DOM[1] - A_DOM[0])


def px_to_paper(xp, yp):
    # reference-picture pixel -> paper coords
    return (xp - 127) / PW, (1100 - yp) / PH


def sticks(t, u, v, base, scale):
    xs, ys = [], []
    for ti, ui, vi in zip(t, u, v):
        xs += [ti, ti + ui * scale / PX_H, None]
        ys += [base, base + vi * scale / PX_A, None]
    return xs, ys


fig = go.Figure()

# panel A
stick_sets = [(vulan_ws_t, vulan_ws_u, vulan_ws_v), (mz09_ws_t, mz09_ws_u, mz09_ws_v),
              (mz11_ws_t, mz11_ws_u, mz11_ws_v)]
bases = [3, 2, 1]
widths = [1.8, 1.9, 2.3]
shapes = []
annos = []
for (t, u, v), base, col, ref, lab, lw in zip(stick_sets, bases, series_colors, ref_stress, ref_labels, widths):
    scale = ARROW_PX / ref
    xs, ys = sticks(t, u, v, base, scale)
    fig.add_trace(go.Scatter(x=xs, y=ys, mode="lines", line=dict(color=col, width=lw),
                             xaxis="x", yaxis="y", hoverinfo="skip", showlegend=False))
    # scale arrow
    x0 = (1175 - 127) / PX_H
    x1 = x0 + ref * scale / PX_H
    ay = base + 0.68
    hx = 22 / PX_H
    hy = 9 / PX_A
    fig.add_trace(go.Scatter(x=[x0, x1, None, x1 - hx, x1, x1 - hx], y=[ay, ay, None, ay + hy, ay, ay - hy],
                             mode="lines", line=dict(color=col, width=1.6), xaxis="x", yaxis="y",
                             hoverinfo="skip", showlegend=False))
    annos.append(dict(x=(1218 - 127) / PX_H, y=base + 0.39, xref="x", yref="y", text=lab, showarrow=False,
                      xanchor="center", yanchor="middle", font=dict(family=FONT, size=25, color=col)))

# panel A frame lines and ticks
ext_l, ext_r = -15 / PW, 1 + 14 / PW
for lv in [0, 1, 2, 3, 4]:
    shapes.append(dict(type="line", xref="paper", yref="paper", x0=ext_l, x1=ext_r, y0=ya(lv), y1=ya(lv),
                       line=dict(color="black", width=2)))
tk = 15 / PH
for i, tv in enumerate(range(0, T_MAX + 1, 12)):
    xp = tv / T_MAX
    segs = [(ya(4), ya(4) + tk), (ya(0), ya(0) - tk), (ya(2), ya(2) - tk)]
    if i % 2 == 1:
        segs += [(ya(3), ya(3) + tk), (ya(2), ya(2) + tk), (ya(1), ya(1) - tk)]
    for y0, y1 in segs:
        shapes.append(dict(type="line", xref="paper", yref="paper", x0=xp, x1=xp, y0=y0, y1=y1,
                           line=dict(color="black", width=1.5)))
for tv in range(0, T_MAX + 1, 24):
    shapes.append(dict(type="line", xref="x", yref="y", x0=tv, x1=tv, y0=0, y1=4, layer="below",
                       line=dict(color=GRID, width=2)))
    if 0 < tv < T_MAX:
        shapes.append(dict(type="line", xref="x2", yref="y2 domain", x0=tv, x1=tv, y0=0, y1=1, layer="below",
                           line=dict(color=GRID, width=2)))

# panel B
for t, p, col, w in [(mz11_t, mz11_p, series_colors[2], 2.0), (mz09_t, mz09_p, series_colors[1], 1.8),
                     (vulan_t, vulan_p, series_colors[0], 1.8)]:
    fig.add_trace(go.Scatter(x=t, y=p, mode="lines", line=dict(color=col, width=w), xaxis="x2", yaxis="y2",
                             showlegend=False))

for name, col, xc in zip(series_names, series_colors, [243, 527, 852]):
    px_, py_ = px_to_paper(xc, 537)
    annos.append(dict(x=px_, y=py_, xref="paper", yref="paper", text=name, showarrow=False,
                      xanchor="center", yanchor="middle", font=dict(family=FONT, size=33, color=col)))
for lab, (lx, ly) in [("A", (33, 42)), ("B", (41, 586))]:
    px_, py_ = px_to_paper(lx, ly)
    annos.append(dict(x=px_, y=py_, xref="paper", yref="paper", text="<b>%s</b>" % lab, showarrow=False,
                      xanchor="center", yanchor="middle", font=dict(family=FONT, size=48, color="black")))

yt = [-1, -0.5, 0, 0.5, 1]
fig.update_layout(
    width=W, height=H, margin=dict(l=ML, r=MR, t=MT, b=MB, autoexpand=False),
    paper_bgcolor="white", plot_bgcolor="white",
    font=dict(family=FONT, size=29, color="black"),
    xaxis=dict(domain=[0, 1], range=[0, T_MAX], visible=False, anchor="y"),
    yaxis=dict(domain=A_DOM, range=[0, 4], visible=False, anchor="x"),
    xaxis2=dict(domain=[0, 1], range=[0, T_MAX], anchor="y2", tickvals=list(range(0, T_MAX + 1, 12)),
                ticks="outside", ticklen=14, tickwidth=2, showline=True, linewidth=2, linecolor="black",
                mirror="ticks", showgrid=False, zeroline=False, ticklabelstandoff=3,
                title=dict(text="Time, hours", font=dict(size=31), standoff=10)),
    yaxis2=dict(domain=B_DOM, range=[-1, 1], anchor="x2", tickvals=yt, ticktext=["-1", "-0.5", "0", "0.5", "1"],
                ticks="outside", ticklen=15, tickwidth=2, showline=True, linewidth=2, linecolor="black",
                mirror="ticks", showgrid=False, zeroline=False, ticklabelstandoff=6,
                minor=dict(dtick=0.1, ticks="outside", ticklen=8, tickwidth=1.5, showgrid=False),
                title=dict(text="Pressure, dBar", font=dict(size=32), standoff=20)),
    shapes=shapes, annotations=annos,
)

fig.write_html("out.html")
